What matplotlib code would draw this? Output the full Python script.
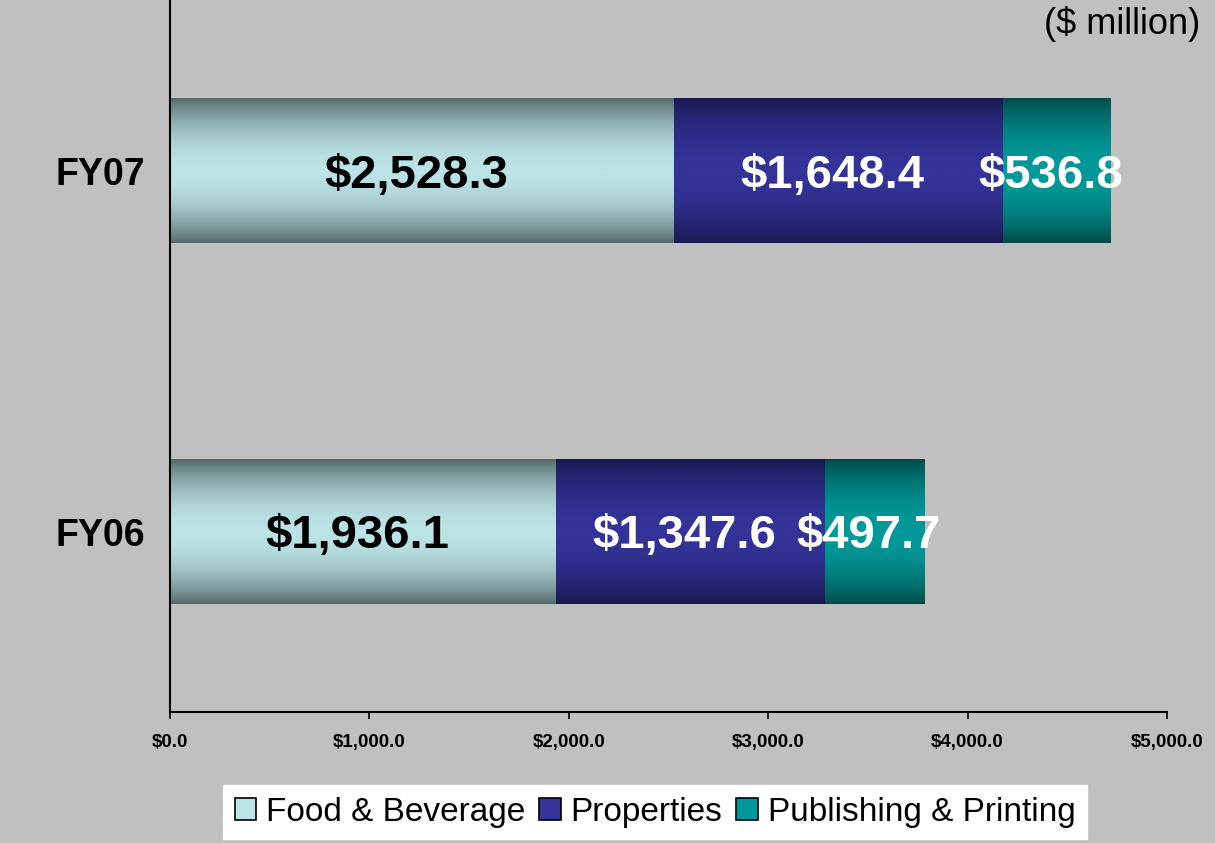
import matplotlib

matplotlib.use("Agg")
import matplotlib.pyplot as plt  # noqa: E402
import numpy as np  # noqa: E402
from matplotlib.colors import LinearSegmentedColormap  # noqa: E402
from matplotlib.patches import Patch  # noqa: E402

plt.rcParams["font.family"] = ["Liberation Sans", "DejaVu Sans"]

years = ["FY06", "FY07"]
segments = ["Food & Beverage", "Properties", "Publishing & Printing"]
food = [1936.1, 2528.3]
properties = [1347.6, 1648.4]
publishing = [497.7, 536.8]
x_ticks = [0, 1000, 2000, 3000, 4000, 5000]

# (edge colour, centre colour, label colour) for each segment
styles = [
    ("#546A6C", "#BCE3E6", "black"),
    ("#1A1850", "#333399", "white"),
    ("#004B48", "#009999", "white"),
]

BG = "#C0C0C0"
W, H = 1215, 843
fig = plt.figure(figsize=(W / 100, H / 100), dpi=100, facecolor=BG)
ax = fig.add_axes([170 / W, (H - 712) / H, 997 / W, 721 / H])
ax.set_facecolor(BG)

bar_h = 0.4
# vertical profile: dark at top and bottom, light in the middle
prof = np.sin(np.linspace(0, np.pi, 64)) ** 0.8
prof = prof.reshape(-1, 1)

series = [food, properties, publishing]
for yi, year in enumerate(years):
    left = 0.0
    for si, vals in enumerate(series):
        edge, centre, txt = styles[si]
        cmap = LinearSegmentedColormap.from_list(f"g{si}", [edge, centre])
        v = vals[yi]
        ax.imshow(prof, cmap=cmap, aspect="auto", interpolation="bilinear",
                  extent=(left, left + v, yi - bar_h / 2, yi + bar_h / 2),
                  vmin=0, vmax=1, zorder=2)
        ax.text(left + v / 2 - 30, yi - 0.012, f"${v:,.1f}", ha="center",
                va="center", fontsize=34, fontweight="bold", color=txt,
                zorder=3)
        left += v

ax.set_xlim(0, 5000)
ax.set_ylim(-0.5, 1.5)
ax.set_xticks(x_ticks)
ax.set_xticklabels([f"${t:,.1f}" for t in x_ticks], fontsize=13.5,
                   fontweight="bold")
ax.set_yticks(range(len(years)))
ax.set_yticklabels(years, fontsize=27, fontweight="bold")
ax.tick_params(axis="y", length=0, pad=18)
ax.tick_params(axis="x", length=5, width=1.2, direction="out", pad=11)
for side in ("top", "right"):
    ax.spines[side].set_visible(False)
for side in ("left", "bottom"):
    ax.spines[side].set_linewidth(1.5)

fig.text(1200 / W, 1 - 24 / H, "($ million)", ha="right", va="center",
         fontsize=26)

handles = [Patch(facecolor=s[1], edgecolor="black", linewidth=1.2)
           for s in styles]
leg = fig.legend(handles, segments, loc="center", ncol=3,
                 bbox_to_anchor=(655 / W, 1 - 812 / H), fontsize=24,
                 frameon=True, fancybox=False, framealpha=1,
                 handlelength=0.65, handleheight=0.65, handletextpad=0.3,
                 columnspacing=0.4, borderpad=0.35, borderaxespad=0)
leg.get_frame().set_facecolor("white")
leg.get_frame().set_edgecolor("white")

fig.savefig("out.png", dpi=100, facecolor=BG)
